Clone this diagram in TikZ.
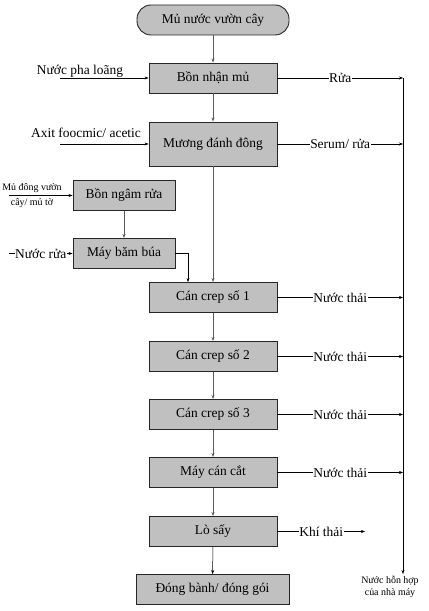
\documentclass[tikz,border=0pt]{standalone}
\usepackage{fontspec}
\setmainfont{Liberation Serif}
\usetikzlibrary{arrows.meta,positioning,calc}
\definecolor{boxgray}{RGB}{192,192,192}
\tikzset{
  box/.style={draw=black!85, fill=boxgray, line width=0.9pt, minimum width=128bp, minimum height=30bp, inner sep=0pt, font=\fontsize{13.5}{15}\selectfont},
  arr/.style={-{Stealth[length=4bp,width=3bp]}, line width=0.5pt, draw=black},
  varr/.style={-{Stealth[length=4bp,width=3bp]}, line width=1pt, draw=black!65},
  lbl/.style={fill=white, inner sep=0.5pt, font=\fontsize{13.5}{15}\selectfont},
  sml/.style={align=center, inner sep=0pt, font=\fontsize{10}{12}\selectfont},
}
\begin{document}
\begin{tikzpicture}[x=1bp,y=-1bp]
\useasboundingbox (0,0) rectangle (428,611);
\node[box, rounded corners=14bp, minimum width=152bp] (src) at (213,20) {Mủ nước vườn cây};
\node[box] (b1) at (213,78) {Bồn nhận mủ};
\node[box, minimum height=44bp] (b2) at (213,144) {Mương đánh đông};
\node[box, minimum width=102bp] (s1) at (124,195.5) {Bồn ngâm rửa};
\node[box, minimum width=102bp] (s2) at (124,253.5) {Máy băm búa};
\node[box] (c1) at (213,297.5) {Cán crep số 1};
\node[box] (c2) at (213,356.5) {Cán crep số 2};
\node[box] (c3) at (213,414.5) {Cán crep số 3};
\node[box] (mc) at (213,472.5) {Máy cán cắt};
\node[box] (ls) at (213,531.5) {Lò sấy};
\node[box, minimum width=153bp] (db) at (212.5,589.5) {Đóng bành/ đóng gói};

% main flow
\draw[varr] (src) -- (b1);
\draw[varr] (b1) -- (b2);
\draw[varr] (b2) -- (c1);
\draw[varr] (s1) -- (s2);
\coordinate (k) at (188,253.5);
\draw[arr] (s2.east) -- (k) -- (k |- c1.north);
\draw[varr] (c1) -- (c2);
\draw[varr] (c2) -- (c3);
\draw[varr] (c3) -- (mc);
\draw[varr] (mc) -- (ls);
\draw[arr] (ls) -- (db);

% bus
\coordinate (bt) at (403,78);
\coordinate (bb) at (403,574);
\draw[arr] (bt) -- (bb);
\node[sml] (mix) at (390,586.5) {Nước hỗn hợp\\của nhà máy};

\draw[arr] (b1.east) -- node[lbl]{Rửa} (b1.east -| bt);
\draw[arr] (b2.east) -- node[lbl]{Serum/ rửa} (b2.east -| bt);
\draw[arr] (c1.east) -- node[lbl]{Nước thải} (c1.east -| bt);
\draw[arr] (c2.east) -- node[lbl]{Nước thải} (c2.east -| bt);
\draw[arr] (c3.east) -- node[lbl]{Nước thải} (c3.east -| bt);
\draw[arr] (mc.east) -- node[lbl]{Nước thải} (mc.east -| bt);
\coordinate (kt) at (365,531.5);
\draw[arr] (ls.east) -- node[lbl]{Khí thải} (kt);

% inputs
\coordinate (i1) at (60,78);
\draw[arr] (i1) -- (b1.west);
\node[lbl, fill=none] (l1) at (80,71) {Nước pha loãng};
\coordinate (i2) at (60,144);
\draw[arr] (i2) -- (b2.west);
\node[lbl, fill=none] (l2) at (86,133) {Axit foocmic/ acetic};
\coordinate (i3) at (9,195.5);
\draw[arr] (i3) -- (s1.west);
\node[sml] (l3a) at (32,188) {Mủ đông vườn};
\node[sml] (l3b) at (32,203) {cây/ mủ tờ};
\coordinate (i4) at (9,253.5);
\draw[arr] (i4) -- node[lbl]{Nước rửa} (s2.west);
\end{tikzpicture}
\end{document}
